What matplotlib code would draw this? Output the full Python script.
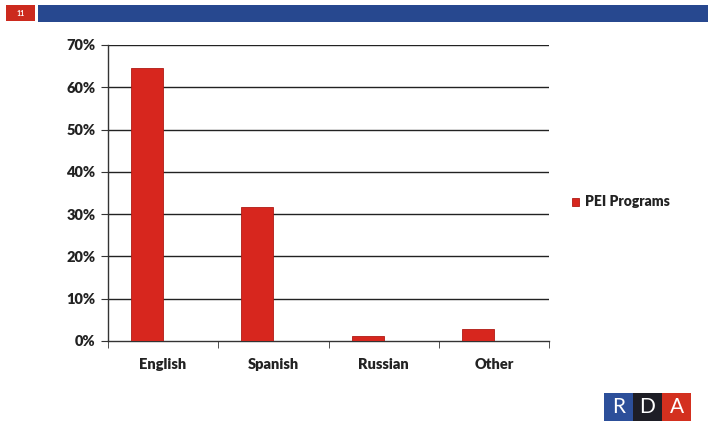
import matplotlib
matplotlib.use("Agg")
import matplotlib.pyplot as plt
from matplotlib.patches import Rectangle

categories = ["English", "Spanish", "Russian", "Other"]
pei_values = [64.5, 31.7, 1.2, 2.8]
yticks = [0, 10, 20, 30, 40, 50, 60, 70]
ytick_labels = ["0%", "10%", "20%", "30%", "40%", "50%", "60%", "70%"]
series_name = "PEI Programs"

W, H = 708, 424
fig = plt.figure(figsize=(W / 100, H / 100), dpi=100)
fig.patch.set_facecolor("white")
plt.rcParams['font.family'] = ['Lato', 'DejaVu Sans']

# axes: left 108, right 549, top 45 (70%), bottom 341 (0%)
ax = fig.add_axes([108 / W, 1 - 341 / H, (549 - 108) / W, (341 - 45) / H])
x = list(range(len(categories)))
bw = 0.29
ax.bar([i - bw / 2 for i in x], pei_values, width=bw, color="#d7261e",
       edgecolor="#b01a14", linewidth=0.6, label=series_name, zorder=3)
ax.set_xlim(-0.5, len(categories) - 0.5)
ax.set_ylim(0, 70)
ax.set_yticks(yticks)
ax.set_yticklabels(ytick_labels, fontsize=10.5, fontweight="heavy", color="#222222")
ax.set_xticks(x)
ax.set_xticklabels(categories, fontsize=10.5, fontweight="heavy", color="#222222")
for t in yticks[1:]:
    ax.axhline(t, color="#222222", linewidth=1.0, zorder=1)
for s in ["top", "right"]:
    ax.spines[s].set_visible(False)
ax.spines["left"].set_color("#333333")
ax.spines["bottom"].set_color("#333333")
ax.spines["left"].set_linewidth(1.0)
ax.spines["bottom"].set_linewidth(1.0)
ax.tick_params(axis="y", direction="out", length=5, pad=4, color="#333333")
ax.tick_params(axis="x", length=0, pad=12)
# minor ticks at category boundaries on x axis
ax.set_xticks([i - 0.5 for i in range(len(categories) + 1)], minor=True)
ax.tick_params(axis="x", which="minor", direction="out", length=5, color="#333333")

leg = ax.legend(loc="center left", bbox_to_anchor=((566 - 108) / (549 - 108), (341 - 202) / (341 - 45)),
                frameon=False, fontsize=10, handlelength=0.5, handleheight=0.5,
                handletextpad=0.5, borderaxespad=0)
for t in leg.get_texts():
    t.set_fontweight("heavy")
    t.set_color("#222222")

# header bars
fig.patches.append(Rectangle((6 / W, 1 - 21 / H), 29 / W, 16 / H, transform=fig.transFigure,
                             facecolor="#cc2a1e", edgecolor="none"))
fig.text(20.5 / W, 1 - 13 / H, "11", fontsize=5, color="white", ha="center", va="center",
         fontweight="bold")
fig.patches.append(Rectangle((38 / W, 1 - 22 / H), (708 - 38) / W, 17 / H, transform=fig.transFigure,
                             facecolor="#27488f", edgecolor="none"))

# RDA logo
logo = [("R", "#2c4f9a", 604), ("D", "#1e1e26", 633), ("A", "#d3301f", 662)]
for letter, col, x0 in logo:
    fig.patches.append(Rectangle((x0 / W, 1 - 421 / H), 29 / W, 28 / H, transform=fig.transFigure,
                                 facecolor=col, edgecolor="none"))
    fig.text((x0 + 14.5) / W, 1 - 407 / H, letter, fontsize=15, color="white",
             ha="center", va="center", family=["Lato", "DejaVu Sans"])

fig.savefig("out.png", dpi=100)
